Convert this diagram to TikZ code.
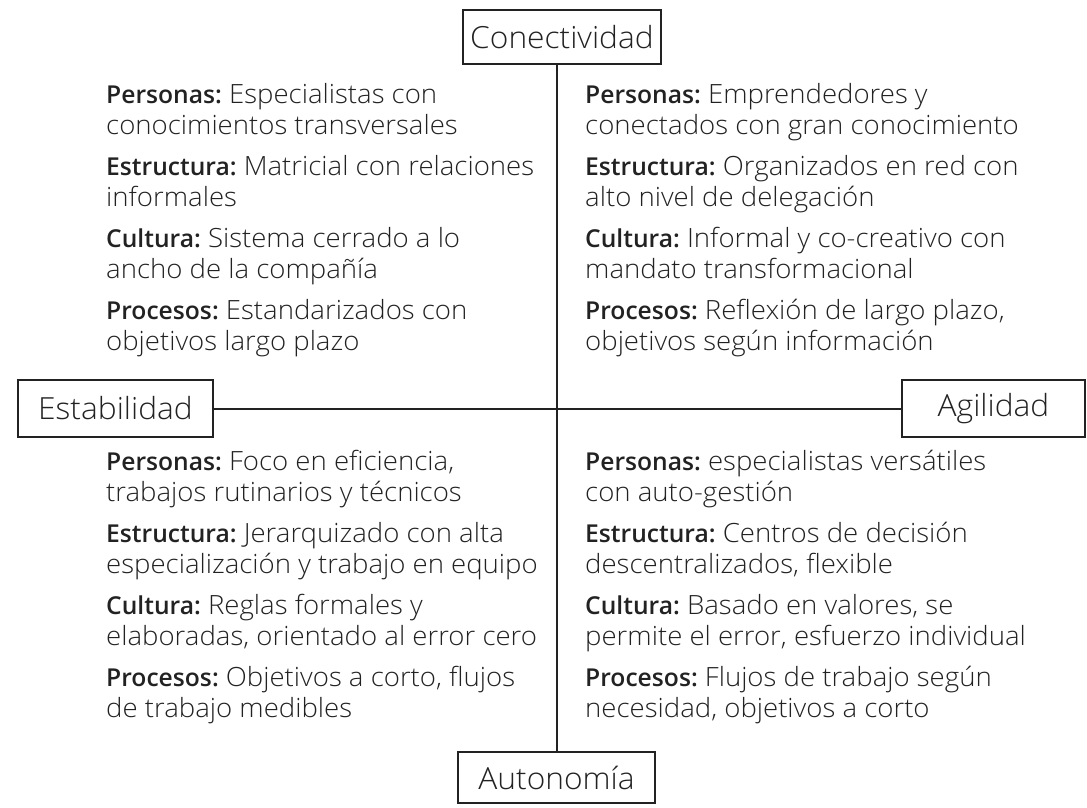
\documentclass[tikz,border=0pt]{standalone}
\usepackage{fontspec}
\IfFontExistsTF{Open Sans Light}{%
  \IfFontExistsTF{Open Sans Semibold}{%
    \setmainfont{Open Sans Light}[UprightFeatures={FakeStretch=1.04},
      BoldFont={Open Sans Semibold},BoldFeatures={Scale=0.93}]}{%
    \setmainfont{Open Sans Light}[UprightFeatures={FakeStretch=1.04},
      BoldFont={Open Sans Bold},BoldFeatures={Scale=0.93}]}}{%
  \setmainfont{Open Sans}}
\usepackage{tikz}
\usetikzlibrary{calc,positioning}
\usepackage{xcolor}
\definecolor{ink}{HTML}{222222}
\frenchspacing

\tikzset{
  axisbox/.style={draw=ink, line width=2pt, fill=white, text=ink, inner sep=0pt,
    font=\fontsize{30.5}{30.5}\selectfont},
  quad/.style={anchor=north west, align=left, inner sep=0pt, text=ink,
    font=\fontsize{26.5}{31}\selectfont}
}

\begin{document}
\begin{tikzpicture}[x=1pt,y=-1pt]

\useasboundingbox (0,0) rectangle (1087,807);

% axis boxes
\node[axisbox, minimum width=198pt, minimum height=54pt] (conect) at (562,37) {Conectividad};
\node[axisbox, minimum width=195pt, minimum height=57pt] (estab) at (115.5,408.5) {Estabilidad};
\node[axisbox, minimum width=183pt, minimum height=57pt] (agil) at (993.5,408.5) {Agilidad};
\node[axisbox, minimum width=197pt, minimum height=51pt] (auton) at (556.5,777.5) {Autonomía};

% axes
\draw[ink, line width=2pt] (conect.south -| auton.north) -- (auton.north);
\draw[ink, line width=2pt] (estab.east) -- (agil.west);

% quadrants
\node[quad] (tl) at (106,83) {\textbf{Personas:} Especialistas con\\conocimientos transversales\\[10pt]
  \textbf{Estructura:} Matricial con relaciones\\informales\\[10pt]
  \textbf{Cultura:} Sistema cerrado a lo\\ancho de la compañía\\[10pt]
  \textbf{Procesos:} Estandarizados con\\objetivos largo plazo};
\node[quad] (tr) at (585,83) {\textbf{Personas:} Emprendedores y\\conectados con gran conocimiento\\[10pt]
  \textbf{Estructura:} Organizados en red con\\alto nivel de delegación\\[10pt]
  \textbf{Cultura:} Informal y co-creativo con\\mandato transformacional\\[10pt]
  \textbf{Procesos:} Reflexión de largo plazo,\\objetivos según información};
\node[quad] (bl) at (106,450) {\textbf{Personas:} Foco en eficiencia,\\trabajos rutinarios y técnicos\\[10pt]
  \textbf{Estructura:} Jerarquizado con alta\\especialización y trabajo en equipo\\[10pt]
  \textbf{Cultura:} Reglas formales y\\elaboradas, orientado al error cero\\[10pt]
  \textbf{Procesos:} Objetivos a corto, flujos\\de trabajo medibles};
\node[quad] (br) at (585,450) {\textbf{Personas:} especialistas versátiles\\con auto-gestión\\[10pt]
  \textbf{Estructura:} Centros de decisión\\descentralizados, flexible\\[10pt]
  \textbf{Cultura:} Basado en valores, se\\permite el error, esfuerzo individual\\[10pt]
  \textbf{Procesos:} Flujos de trabajo según\\necesidad, objetivos a corto};

\end{tikzpicture}
\end{document}
